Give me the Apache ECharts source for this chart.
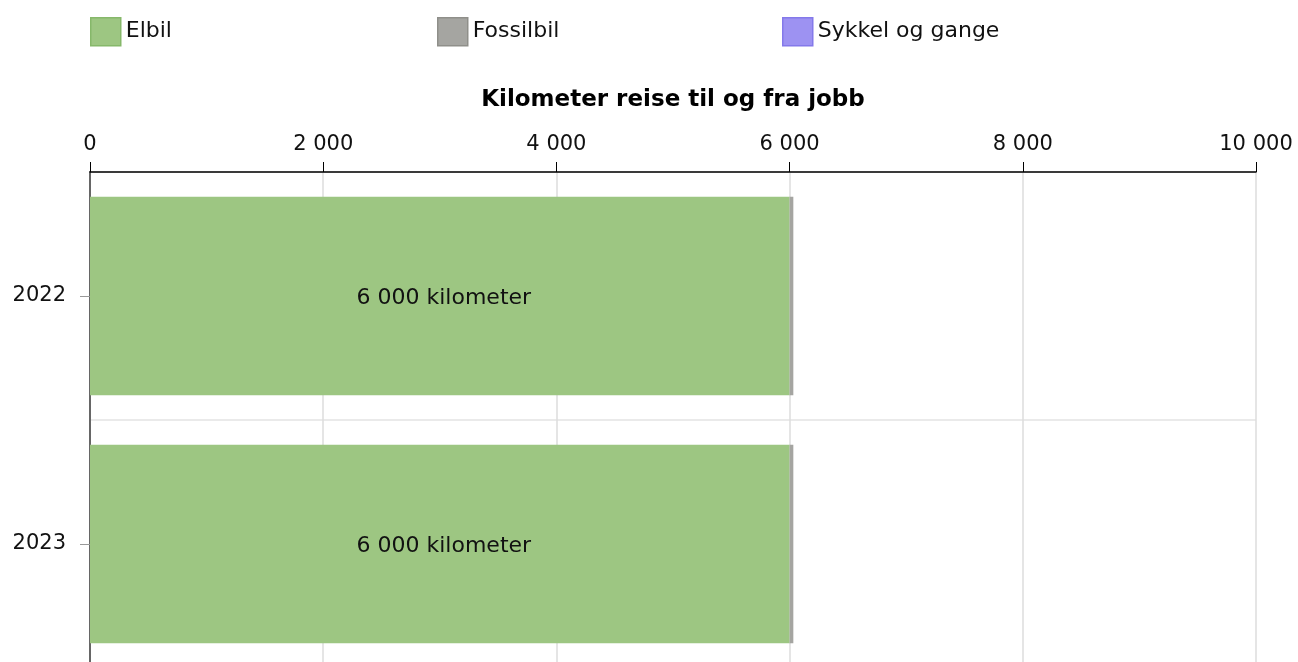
<!DOCTYPE html>
<html>
<head>
<meta charset="utf-8">
<script src="https://cdn.jsdelivr.net/npm/echarts@6/dist/echarts.min.js"></script>
<style>
  html, body { margin: 0; padding: 0; background: #fff; }
  #chart { width: 1298px; height: 662px; }
</style>
</head>
<body>
<div id="chart"></div>
<script>
// data
const years = ['2022', '2023'];
const elbil = [6000, 6000];
const fossilbil = [32, 32];
const sykkel = [0, 0];
const seriesNames = ['Elbil', 'Fossilbil', 'Sykkel og gange'];
const axisTitle = 'Kilometer reise til og fra jobb';

function fmt(v) {
  return String(Math.round(v)).replace(/\B(?=(\d{3})+(?!\d))/g, ' ');
}

const font = 'DejaVu Sans, Verdana, sans-serif';
const colors = ['#9dc682', '#a5a5a1', '#9d92f2'];
const borders = ['#86b86a', '#8f8f8a', '#8479ea'];

const chart = echarts.init(document.getElementById('chart'));

// legend: one block per item so they sit at fixed positions
const legendLeft = [85, 432, 777];
const legends = seriesNames.map(function (name, i) {
  return {
    data: [name],
    left: legendLeft[i],
    top: 12,
    itemWidth: 30,
    itemHeight: 28,
    itemGap: 6,
    icon: 'rect',
    selectedMode: false,
    itemStyle: {borderColor: borders[i], borderWidth: 1.5},
    textStyle: {fontFamily: font, fontSize: 22, color: '#111', padding: [2, 0, 0, 0]}
  };
});

const option = {
  animation: false,
  legend: legends,
  grid: {left: 90, right: 42, top: 172, height: 496, outerBoundsMode: 'none', containLabel: false},
  xAxis: {
    type: 'value',
    position: 'top',
    min: 0,
    max: 10000,
    interval: 2000,
    name: axisTitle,
    nameLocation: 'middle',
    nameGap: 60,
    nameTextStyle: {fontFamily: font, fontSize: 23, fontWeight: 'bold', color: '#000'},
    axisLine: {show: true, lineStyle: {color: '#000', width: 1.5}},
    axisTick: {show: true, length: 10, lineStyle: {color: '#000'}},
    axisLabel: {
      fontFamily: font, fontSize: 21, color: '#111', margin: 17,
      formatter: function (v) { return fmt(v); }
    },
    splitLine: {show: true, lineStyle: {color: '#dcdcdc', width: 1.5}}
  },
  yAxis: {
    type: 'category',
    data: years,
    inverse: true,
    axisLine: {show: true, lineStyle: {color: '#666', width: 2}},
    axisTick: {show: true, alignWithLabel: true, length: 10, lineStyle: {color: '#999'}},
    axisLabel: {fontFamily: font, fontSize: 21, color: '#111', margin: 24},
    splitLine: {show: true, lineStyle: {color: '#e3e3e3', width: 1.5}}
  },
  series: [
    {
      name: seriesNames[0], type: 'bar', stack: 'km', data: elbil,
      barCategoryGap: '20%',
      itemStyle: {color: colors[0]},
      label: {
        show: true, position: 'inside', offset: [4, 2],
        fontFamily: font, fontSize: 22, color: '#111',
        formatter: function (p) { return fmt(p.value) + ' kilometer'; }
      }
    },
    {
      name: seriesNames[1], type: 'bar', stack: 'km', data: fossilbil,
      itemStyle: {color: colors[1]}
    },
    {
      name: seriesNames[2], type: 'bar', stack: 'km', data: sykkel,
      itemStyle: {color: colors[2]}
    }
  ]
};

chart.setOption(option);
</script>
</body>
</html>
